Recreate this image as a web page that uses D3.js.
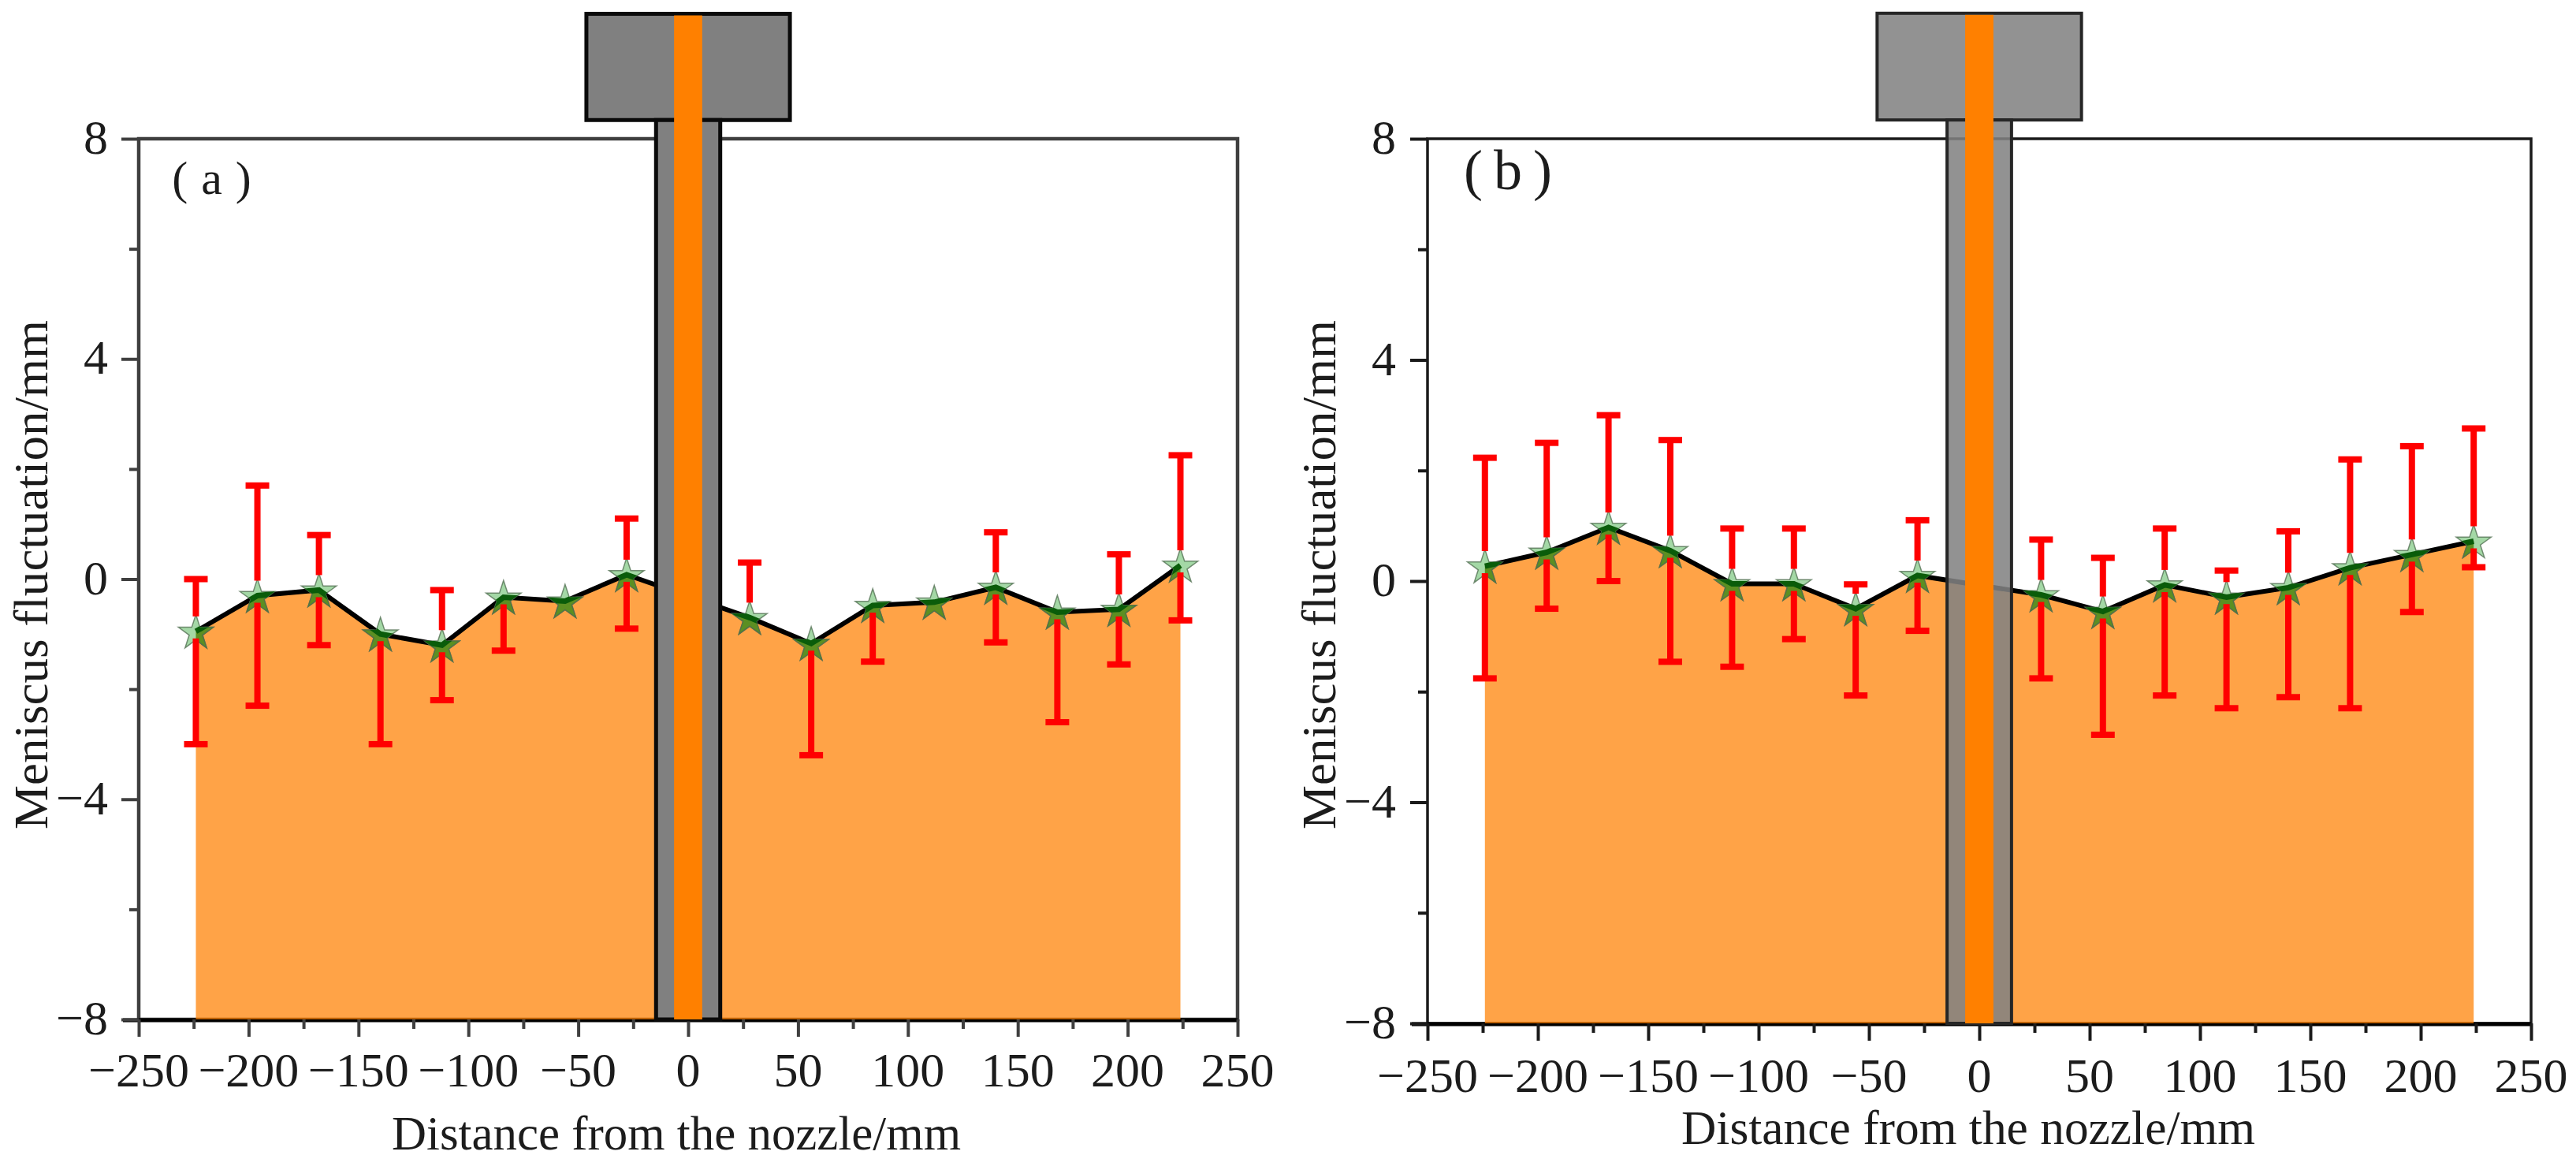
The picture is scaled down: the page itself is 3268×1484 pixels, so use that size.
<!DOCTYPE html>
<html>
<head>
<meta charset="utf-8">
<script src="https://cdnjs.cloudflare.com/ajax/libs/d3/7.8.5/d3.min.js"></script>
<style>
  html, body { margin: 0; padding: 0; background: #fff; }
  svg { display: block; }
  text { font-family: "Liberation Serif", "Times New Roman", serif; fill: #1c1c1c; }
</style>
</head>
<body>
<svg id="chart" width="3268" height="1484"></svg>
<script>
// Measuring positions along the mould, in mm from the nozzle centre line
const positions = [-224, -196, -168, -140, -112, -84, -56, -28, 28, 56, 84, 112, 140, 168, 196, 224];

// Panel (a): mean meniscus level with the upper and lower whisker ends (null = no whisker)
const meanA  = [-0.95, -0.3, -0.2, -1.0, -1.2, -0.33, -0.4, 0.08, -0.7, -1.17, -0.48, -0.42, -0.15, -0.6, -0.55, 0.25];
const upperA = [0, 1.7, 0.8, null, -0.2, null, null, 1.1, 0.3, null, null, null, 0.85, null, 0.45, 2.25];
const lowerA = [-3.0, -2.3, -1.2, -3.0, -2.2, -1.3, null, -0.9, null, -3.2, -1.5, null, -1.15, -2.6, -1.55, -0.75];

// Panel (b)
const meanB  = [0.27, 0.52, 0.97, 0.55, -0.05, -0.05, -0.5, 0.1, -0.25, -0.55, -0.07, -0.29, -0.12, 0.24, 0.48, 0.72];
const upperB = [2.23, 2.5, 3.0, 2.55, 0.95, 0.95, -0.06, 1.1, 0.75, 0.42, 0.95, 0.19, 0.9, 2.2, 2.44, 2.76];
const lowerB = [-1.76, -0.5, 0, -1.46, -1.55, -1.05, -2.07, -0.9, -1.76, -2.78, -2.07, -2.3, -2.1, -2.3, -0.56, 0.25];

// Axis ticks and labels
const xMajorTicks = [-250, -200, -150, -100, -50, 0, 50, 100, 150, 200, 250];
const xMinorTicks = [-225, -175, -125, -75, -25, 25, 75, 125, 175, 225];
const yMajorTicks = [-8, -4, 0, 4, 8];
const yMinorTicks = [-6, -2, 2, 6];
const xTitle = "Distance from the nozzle/mm";
const yTitle = "Meniscus fluctuation/mm";

// Nozzle outline expressed in axis units (half-widths in mm, levels in mm)
const nozzleStemHalf = 14.6;
const nozzleBoreHalf = 6.4;
const nozzleHeadHalf = 46.3;
const nozzleHeadTop = 10.27;
const nozzleHeadBottom = 8.34;

const panels = [
  { id: "a", tag: "(a)", mean: meanA, upper: upperA, lower: lowerA,
    left: 176, right: 1570, top: 176, bottom: 1293,
    frame: "#3f3f3f", frameWidth: 4.5, nozzleFill: "#808080", nozzleOpacity: 1, nozzleStroke: "#0a0a0a", nozzleWidth: 5,
    tagX: 277, tagY: 246, tagSize: 60, tagSpacing: 17,
    xTickY: 1378, yTickX: 137, xTitleX: 497, xTitleLen: 722, xTitleY: 1458,
    yTitleX: 60, yTitleTop: 406, yTitleLen: 646 },
  { id: "b", tag: "(b)", mean: meanB, upper: upperB, lower: lowerB,
    left: 1811, right: 3211, top: 176, bottom: 1298,
    frame: "#1a1a1a", frameWidth: 3.5, nozzleFill: "#828282", nozzleOpacity: 0.87, nozzleStroke: "#262626", nozzleWidth: 4,
    tagX: 1920, tagY: 240, tagSize: 72, tagSpacing: 14,
    xTickY: 1385, yTickX: 1771, xTitleX: 2133, xTitleLen: 728, xTitleY: 1451,
    yTitleX: 1694, yTitleTop: 406, yTitleLen: 646 }
];

const svg = d3.select("#chart");
const fmt = d => String(d).replace("-", "\u2212");
const star = d3.symbol(d3.symbolStar, 610)();

function drawPanel(p) {
  const x = d3.scaleLinear().domain([-250, 250]).range([p.left, p.right]);
  const y = d3.scaleLinear().domain([-8, 8]).range([p.bottom, p.top]);
  const g = svg.append("g").attr("id", "panel-" + p.id);
  const points = positions.map((pos, i) => ({ pos, mean: p.mean[i], upper: p.upper[i], lower: p.lower[i] }));

  // Plot frame, with a heavier base line
  g.append("rect")
    .attr("x", x(-250)).attr("y", y(8))
    .attr("width", x(250) - x(-250)).attr("height", y(-8) - y(8))
    .attr("fill", "none").attr("stroke", p.frame).attr("stroke-width", p.frameWidth);
  g.append("line")
    .attr("x1", x(-250) - 20).attr("x2", x(250))
    .attr("y1", y(-8) + 1).attr("y2", y(-8) + 1)
    .attr("stroke", "#000").attr("stroke-width", 5);

  // Axes: bottom and left, each with a long and a short tick set
  const styleAxis = sel => {
    sel.select(".domain").remove();
    sel.selectAll("line").attr("stroke", p.frame).attr("stroke-width", 4);
  };
  const xAxis = g.append("g").attr("transform", `translate(0,${y(-8)})`);
  xAxis.append("g").call(d3.axisBottom(x).tickValues(xMajorTicks).tickSize(22).tickFormat("")).call(styleAxis);
  xAxis.append("g").call(d3.axisBottom(x).tickValues(xMinorTicks).tickSize(12).tickFormat("")).call(styleAxis);
  const yAxis = g.append("g").attr("transform", `translate(${x(-250)},0)`);
  yAxis.append("g").call(d3.axisLeft(y).tickValues(yMajorTicks).tickSize(22).tickFormat("")).call(styleAxis);
  yAxis.append("g").call(d3.axisLeft(y).tickValues(yMinorTicks).tickSize(12).tickFormat("")).call(styleAxis);

  // Tick labels
  g.selectAll(".xlab").data(xMajorTicks).join("text").attr("class", "xlab")
    .attr("x", d => x(d)).attr("y", p.xTickY)
    .attr("text-anchor", "middle").attr("font-size", 62).text(fmt);
  g.selectAll(".ylab").data(yMajorTicks).join("text").attr("class", "ylab")
    .attr("x", p.yTickX).attr("y", d => y(d) + 19)
    .attr("text-anchor", "end").attr("font-size", 62).text(fmt);

  // Axis titles
  g.append("text").attr("x", p.xTitleX).attr("y", p.xTitleY)
    .attr("font-size", 62).attr("textLength", p.xTitleLen).attr("lengthAdjust", "spacingAndGlyphs")
    .text(xTitle);
  g.append("text").attr("transform", `translate(${p.yTitleX},${p.yTitleTop + p.yTitleLen}) rotate(-90)`)
    .attr("font-size", 62).attr("textLength", p.yTitleLen).attr("lengthAdjust", "spacingAndGlyphs")
    .text(yTitle);

  // Panel tag
  g.append("text").attr("x", p.tagX).attr("y", p.tagY)
    .attr("text-anchor", "middle").attr("font-size", p.tagSize)
    .attr("letter-spacing", p.tagSpacing).text(p.tag);

  // Filled region under the mean level
  const areaGen = d3.area().x(d => x(d.pos)).y0(y(-8)).y1(d => y(d.mean));
  const lineGen = d3.line().x(d => x(d.pos)).y(d => y(d.mean));
  g.append("path").attr("d", areaGen(points)).attr("fill", "#ff8000").attr("fill-opacity", 0.72);
  g.append("path").attr("d", lineGen(points)).attr("fill", "none").attr("stroke", "#000").attr("stroke-width", 6);

  // Clip regions for the two-tone stars
  const defs = g.append("defs");
  defs.append("clipPath").attr("id", "under-" + p.id).append("path").attr("d", areaGen(points));
  defs.append("clipPath").attr("id", "stars-" + p.id)
    .selectAll("path").data(points).join("path")
    .attr("d", star).attr("transform", d => `translate(${x(d.pos)},${y(d.mean) + 2})`);

  const drawStars = (cls, fill) => {
    const layer = g.append("g").attr("class", cls);
    layer.selectAll("path").data(points).join("path")
      .attr("d", star).attr("transform", d => `translate(${x(d.pos)},${y(d.mean) + 2})`)
      .attr("fill", fill).attr("stroke", "#4d6b4d").attr("stroke-opacity", 0.75).attr("stroke-width", 1.5);
    return layer;
  };

  drawStars("star-top", "#a4d8a6");
  drawStars("star-low", "#5c8f22").attr("clip-path", `url(#under-${p.id})`);
  g.append("path").attr("d", lineGen(points)).attr("fill", "none")
    .attr("stroke", "#0a5c0a").attr("stroke-width", 7).attr("clip-path", `url(#stars-${p.id})`);

  // Whiskers leave a gap around the marker
  const bars = g.append("g").attr("stroke", "#ff0000").attr("stroke-width", 8).attr("fill", "none");
  const capHalf = 15;
  points.forEach(d => {
    if (d.upper !== null) {
      bars.append("line").attr("x1", x(d.pos)).attr("x2", x(d.pos)).attr("y1", y(d.upper)).attr("y2", Math.max(y(d.upper), y(d.mean) - 19));
      bars.append("line").attr("x1", x(d.pos) - capHalf).attr("x2", x(d.pos) + capHalf).attr("y1", y(d.upper)).attr("y2", y(d.upper));
    }
    if (d.lower !== null) {
      bars.append("line").attr("x1", x(d.pos)).attr("x2", x(d.pos)).attr("y1", y(d.mean) + 9).attr("y2", y(d.lower));
      bars.append("line").attr("x1", x(d.pos) - capHalf).attr("x2", x(d.pos) + capHalf).attr("y1", y(d.lower)).attr("y2", y(d.lower));
    }
  });

  // Submerged entry nozzle: head above the plot, stem down to the lower limit, bore in the middle
  const noz = g.append("g");
  noz.append("rect")
    .attr("x", x(-nozzleHeadHalf)).attr("y", y(nozzleHeadTop))
    .attr("width", x(nozzleHeadHalf) - x(-nozzleHeadHalf)).attr("height", y(nozzleHeadBottom) - y(nozzleHeadTop))
    .attr("fill", p.nozzleFill).attr("fill-opacity", p.nozzleOpacity)
    .attr("stroke", p.nozzleStroke).attr("stroke-width", p.nozzleWidth);
  noz.append("rect")
    .attr("x", x(-nozzleStemHalf)).attr("y", y(nozzleHeadBottom))
    .attr("width", x(nozzleStemHalf) - x(-nozzleStemHalf)).attr("height", y(-8) - y(nozzleHeadBottom))
    .attr("fill", p.nozzleFill).attr("fill-opacity", p.nozzleOpacity)
    .attr("stroke", p.nozzleStroke).attr("stroke-width", p.nozzleWidth);
  noz.append("rect")
    .attr("x", x(-nozzleBoreHalf)).attr("y", y(nozzleHeadTop) + 2)
    .attr("width", x(nozzleBoreHalf) - x(-nozzleBoreHalf)).attr("height", y(-8) - y(nozzleHeadTop) - 2)
    .attr("fill", "#ff8000");
}

panels.forEach(drawPanel);
</script>
</body>
</html>
